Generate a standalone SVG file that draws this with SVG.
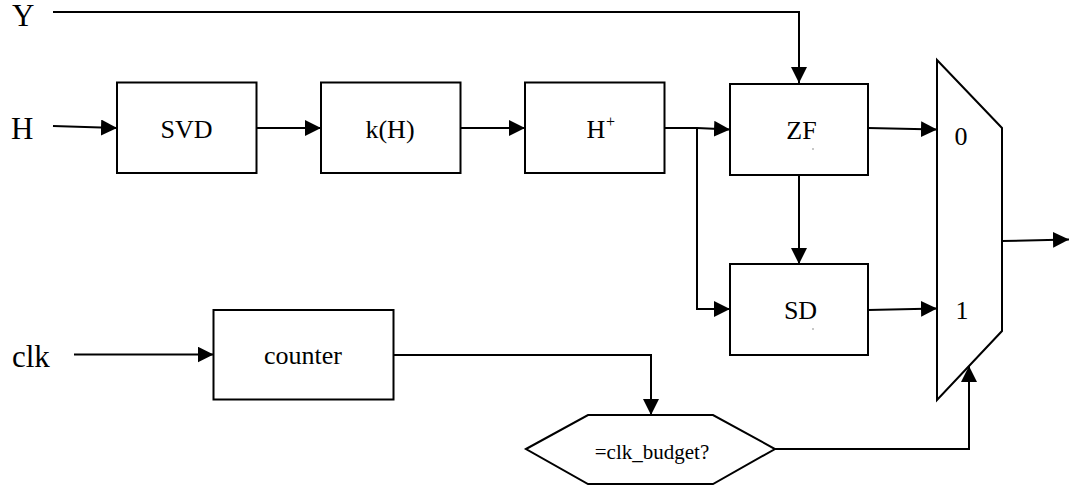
<svg xmlns="http://www.w3.org/2000/svg" width="1071" height="488" viewBox="0 0 1071 488">
<style>
.box{fill:#fff;stroke:#000;stroke-width:2}
.ln{fill:none;stroke:#000;stroke-width:2;marker-end:url(#ah)}
.lbl{text-anchor:middle}
</style>
<defs>
<marker id="ah" markerUnits="userSpaceOnUse" markerWidth="17" markerHeight="17" refX="16" refY="8" orient="auto" viewBox="0 0 17 17">
<path d="M0,0 L16,8 L0,16 z" fill="#000"/>
</marker>
</defs>
<rect width="1071" height="488" fill="#fff"/>
<g id="inputs" font-family="'Liberation Serif','DejaVu Serif',serif" font-size="31" fill="#000">
<text x="12" y="26" font-family="'Liberation Serif','DejaVu Serif',serif">Y</text>
<text x="11" y="139" font-family="'Liberation Serif','DejaVu Serif',serif">H</text>
<text x="12" y="367" font-family="'Liberation Serif','DejaVu Serif',serif">clk</text>
</g>
<g id="svd"><rect class="box" x="117" y="82.5" width="139.5" height="90.5"/><text class="lbl" x="186.5" y="137.5" font-family="'Liberation Serif','DejaVu Serif',serif" font-size="26">SVD</text></g>
<g id="kh"><rect class="box" x="321" y="82.5" width="139.5" height="90.5"/><text class="lbl" x="390" y="137.5" font-family="'Liberation Serif','DejaVu Serif',serif" font-size="26">k(H)</text></g>
<g id="hplus"><rect class="box" x="525" y="82.5" width="139.5" height="90.5"/><text x="586.5" y="137.5" font-family="'Liberation Serif','DejaVu Serif',serif" font-size="26">H<tspan x="606" y="126.5" font-size="16">+</tspan></text></g>
<g id="zf"><rect class="box" x="730" y="84" width="138" height="91"/><text class="lbl" x="801.5" y="139" font-family="'Liberation Serif','DejaVu Serif',serif" font-size="26">ZF</text><circle cx="813" cy="149" r="0.7" fill="#666"/></g>
<g id="sd"><rect class="box" x="730" y="264" width="138" height="91"/><text class="lbl" x="800.5" y="318.5" font-family="'Liberation Serif','DejaVu Serif',serif" font-size="26">SD</text><circle cx="813" cy="329" r="0.7" fill="#666"/></g>
<g id="counter"><rect class="box" x="213.5" y="310" width="180" height="89.5"/><text class="lbl" x="303" y="363.5" font-family="'Liberation Serif','DejaVu Serif',serif" font-size="26">counter</text></g>
<g id="compare"><polygon class="box" points="526,449 588,415 713,415 775,449 713,484 588,484"/><text class="lbl" x="652" y="459" font-family="'Liberation Serif','DejaVu Serif',serif" font-size="21">=clk_budget?</text></g>
<g id="mux"><polygon class="box" points="937,60 1002,128 1002,331 937,400"/><text class="lbl" x="961" y="145" font-family="'Liberation Serif','DejaVu Serif',serif" font-size="26">0</text><text class="lbl" x="962" y="319" font-family="'Liberation Serif','DejaVu Serif',serif" font-size="26">1</text></g>
<g id="connectors">
<path class="ln" d="M53,12 H799 V83"/>
<path class="ln" d="M53,126 L117,128"/>
<path class="ln" d="M257,128 H321"/>
<path class="ln" d="M461,128 H525"/>
<path class="ln" d="M664,128 H697 L730,129.5"/>
<path class="ln" d="M697,128 V309 H730"/>
<path class="ln" d="M799,175 V264"/>
<path class="ln" d="M868,128 L937,129.5"/>
<path class="ln" d="M868,310 L937,308.5"/>
<path class="ln" d="M1002,241 L1069,239.5"/>
<path class="ln" d="M74,354.5 H213.5"/>
<path class="ln" d="M393.5,355 H651 V415"/>
<path class="ln" d="M775,449 H969 V366"/>
</g>
</svg>
